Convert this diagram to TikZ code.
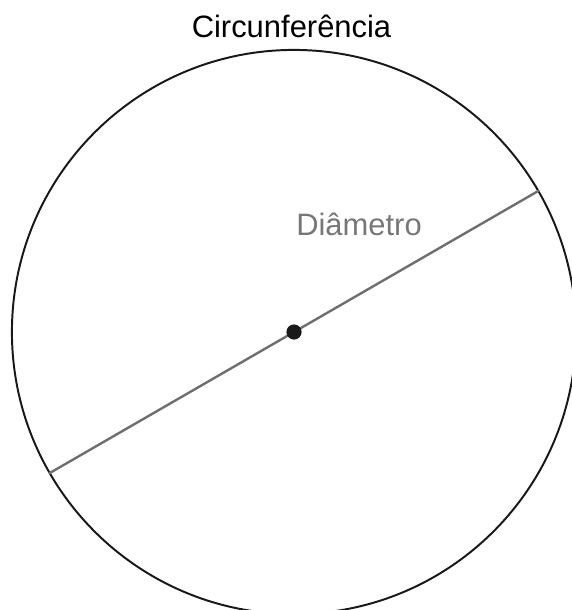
\documentclass[tikz,border=0pt]{standalone}
\usepackage{fontspec}
\setmainfont{Liberation Sans}
\usetikzlibrary{positioning}
\definecolor{diamgray}{HTML}{6E6E6E}
\definecolor{labgray}{HTML}{777777}

\begin{document}
\begin{tikzpicture}[
  x=0.025cm, y=-0.025cm,
  rim/.style={draw, circle, inner sep=0pt, minimum size=14.1cm,
              line width=1.4pt, black!90},
  diam/.style={line width=1.7pt, diamgray},
  ctr/.style={fill, circle, inner sep=0pt, minimum size=0.38cm, black!90},
  lbl/.style={font=\fontsize{22}{26}\selectfont, anchor=base, inner sep=0pt}
]
\useasboundingbox (0,0) rectangle (571,610);
\node[rim] (circ) at (294,332) {};
\draw[diam] (circ.210.7) -- (circ.30.7);
\node[ctr] (mid) at (circ.center) {};
\node[lbl] (title) at (291.5,38) {Circunferência};
\node[lbl, text=labgray] (dlab) at (359,235) {Diâmetro};
\end{tikzpicture}
\end{document}
